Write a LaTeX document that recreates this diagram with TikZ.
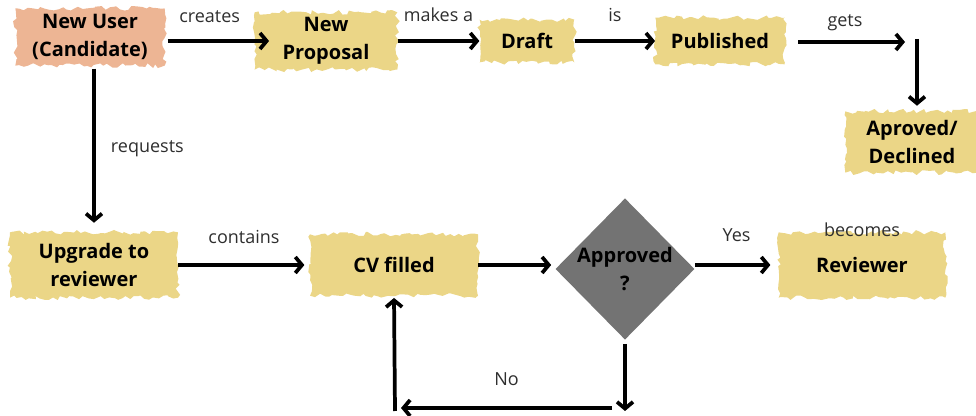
\documentclass[tikz,border=0pt]{standalone}
\usepackage{fontspec}
\setmainfont{Open Sans}
\usepackage{xcolor}
\usepackage{tikz}
\usetikzlibrary{positioning,arrows.meta,shapes.geometric,decorations.pathmorphing}
\definecolor{brushyellow}{HTML}{EBD687}
\definecolor{brushpeach}{HTML}{EDB594}
\definecolor{decisiongray}{HTML}{737373}
\definecolor{labelgray}{HTML}{2E2E2E}

\begin{document}
\pgfmathsetseed{7}
\begin{tikzpicture}[x=0.75pt,y=-0.75pt,
  box/.style={fill=brushyellow,decorate,decoration={random steps,segment length=3pt,amplitude=1.8pt},
    align=center,inner sep=0pt,text=black,font=\fontsize{15}{21}\selectfont\bfseries},
  decision/.style={diamond,fill=decisiongray,align=center,inner sep=0pt,
    minimum width=101pt,minimum height=106pt,font=\fontsize{15}{21}\selectfont\bfseries},
  lbl/.style={font=\fontsize{13.5}{16}\selectfont,text=labelgray},
  arrow/.style={line width=2.8pt,-{Straight Barb[length=5pt,width=12pt]}}]
  \useasboundingbox (0,0) rectangle (976,416);
  % top row
  \node[box,fill=brushpeach,minimum width=112pt,minimum height=43pt] (user) at (90,37) {New User\\(Candidate)};
  \node[box,minimum width=107pt,minimum height=43pt] (proposal) at (326,41) {New\\Proposal};
  \node[box,minimum width=71pt,minimum height=32pt] (draft) at (527,41) {Draft};
  \node[box,minimum width=97pt,minimum height=35pt] (published) at (720,41) {Published};
  \node[box,minimum width=100pt,minimum height=46pt] (verdict) at (912,142) {Aproved/\\Declined};
  % bottom row
  \node[box,minimum width=126pt,minimum height=49pt] (upgrade) at (94,265) {Upgrade to\\reviewer};
  \node[box,minimum width=126pt,minimum height=46pt] (cv) at (394,265) {CV filled};
  \node[decision] (approved) at (625,269) {Approved\\?};
  \node[box,minimum width=125pt,minimum height=49pt] (reviewer) at (862,265) {Reviewer};
  \node[lbl,above=-7pt of reviewer] (becomes) {becomes};
  % loose ends
  \coordinate (getsend) at (905,42);
  \coordinate (getsdrop) at (917,39);
  \coordinate (nodown) at (625,411);
  \coordinate (noright) at (612,408);
  \coordinate (noleft) at (401,408);
  \coordinate (noup) at (395,411);
  \path[arrow]
    (proposal.west -| user.east) edge[shorten <=2pt,shorten >=-11pt] node[lbl,above=9pt] {creates} (proposal.west)
    (proposal.east) edge node[lbl,above=10pt] {makes a} (draft.west)
    (draft.east) edge node[lbl,above=10pt] {is} (published.west)
    (published.east |- getsend) edge[shorten <=10pt] node[lbl,above=4pt] {gets} (getsend)
    (getsdrop) edge[shorten >=4pt] (getsdrop |- verdict.north)
    (upgrade.north |- user.south) edge[shorten <=2pt,shorten >=7pt] node[lbl,right=8pt] {requests} (upgrade.north)
    (upgrade.east) edge[shorten >=4pt] node[lbl,above=11pt] {contains} (cv.west)
    (cv.east) edge[shorten >=3pt] (approved.west |- cv.east)
    (approved.east |- reviewer.west) edge[shorten >=6pt] node[lbl,above=13pt] {Yes} (reviewer.west)
    (approved.south) edge[shorten <=3pt] (nodown)
    (noright) edge node[lbl,above=12pt] {No} (noleft)
    (noup) edge[shorten >=1.5pt] (cv.south);
\end{tikzpicture}
\end{document}
